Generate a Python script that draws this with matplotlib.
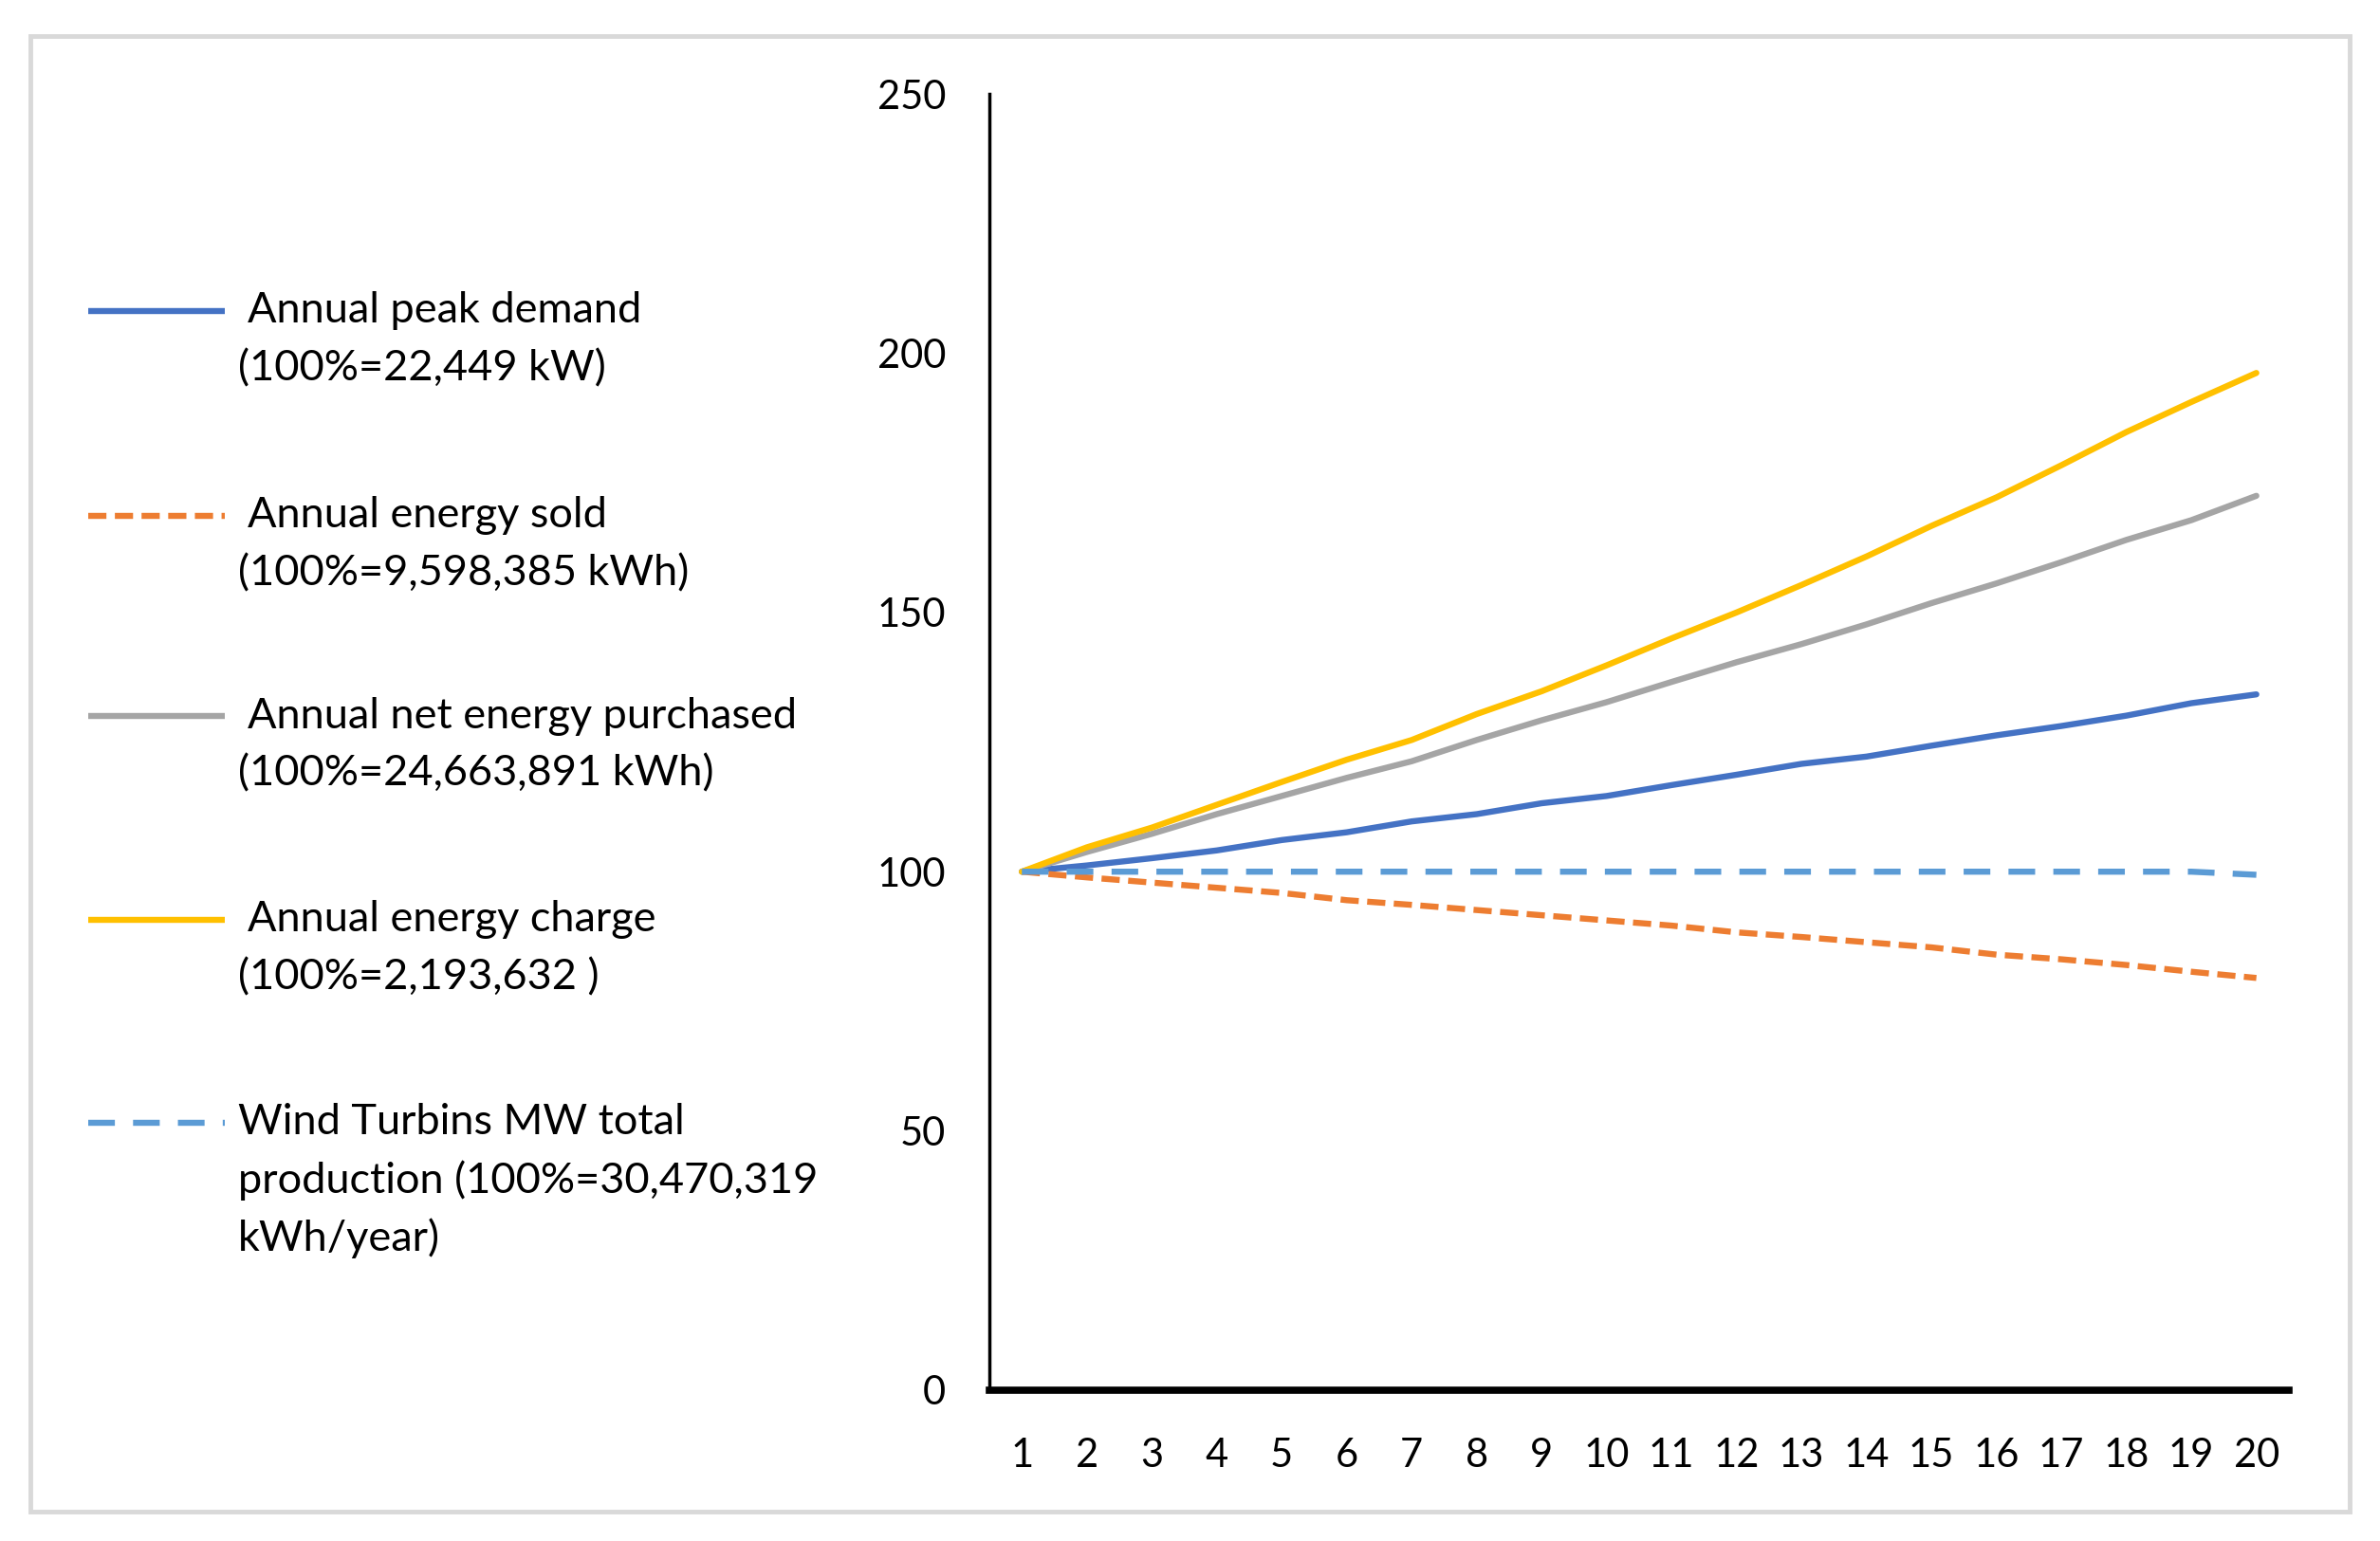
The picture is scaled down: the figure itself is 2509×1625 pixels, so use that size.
import numpy as np
import matplotlib
matplotlib.use('Agg')
from matplotlib import pyplot as plt
from matplotlib.patches import Rectangle

plt.rcParams['font.family'] = ['Lato', 'DejaVu Sans']

# years on the x axis
years = list(range(1, 21))

# index values (100% = year 1)
peak_demand = [100, 101.2, 102.6, 104.1, 106.1, 107.6, 109.7, 111.1, 113.2, 114.6,
               116.7, 118.7, 120.8, 122.2, 124.3, 126.3, 128.1, 130.1, 132.5, 134.2]
energy_sold = [100, 98.9, 97.9, 96.9, 95.9, 94.5, 93.6, 92.6, 91.6, 90.6,
               89.6, 88.3, 87.4, 86.4, 85.4, 84.0, 83.1, 82.0, 80.7, 79.5]
net_purchased = [100, 103.8, 107.3, 111.1, 114.6, 118.1, 121.3, 125.4, 129.2, 132.7,
                 136.6, 140.4, 143.9, 147.7, 151.8, 155.6, 159.7, 164.0, 167.8, 172.5]
energy_charge = [100, 104.7, 108.5, 112.9, 117.3, 121.6, 125.4, 130.4, 134.8, 139.8,
                 145.0, 150.0, 155.3, 160.8, 166.7, 172.2, 178.4, 184.8, 190.6, 196.2]
wind_prod = [100, 100, 100, 100, 100, 100, 100, 100, 100, 100,
             100, 100, 100, 100, 100, 100, 100, 100, 100, 99.4]

labels = [
    ["Annual peak demand", "(100%=22,449 kW)"],
    ["Annual energy sold", "(100%=9,598,385 kWh)"],
    ["Annual net energy purchased", "(100%=24,663,891 kWh)"],
    ["Annual energy charge", "(100%=2,193,632 )"],
    ["Wind Turbins MW total", "production (100%=30,470,319", "kWh/year)"],
]

colors = ['#4472C4', '#ED7D31', '#A5A5A5', '#FFC000', '#5B9BD5']
series = [peak_demand, energy_sold, net_purchased, energy_charge, wind_prod]
dashes = [None, (3.0, 1.4), None, None, (4.4, 3.0)]
lw = 4.6

fig = plt.figure(figsize=(25.09, 16.25), dpi=100)

# background axes in pixel coords for the frame and the legend
lax = fig.add_axes([0, 0, 1, 1])
lax.set_xlim(0, 2509)
lax.set_ylim(1625, 0)
lax.axis('off')
lax.add_patch(Rectangle((32, 38), 2445, 1556, fill=False, edgecolor='#d9d9d9', lw=3.5))

leg_y = [328, 544, 755, 970, 1184]
for i, lab in enumerate(labels):
    y0 = leg_y[i]
    ln, = lax.plot([93, 237], [y0, y0], color=colors[i], lw=lw, solid_capstyle='butt')
    if dashes[i] is not None:
        ln.set_dashes(dashes[i])
        ln.set_dash_capstyle('butt')
    for j, t in enumerate(lab):
        xoff = 261 if (j == 0 and i < 4) else 251
        lax.text(xoff, y0 + j * 61, t, fontsize=32.5, va='center', ha='left', color='#000000')

# main chart
ax = fig.add_axes([0.4157, 0.0979, 0.5460, 0.8411])
ax.patch.set_alpha(0)
for i, s in enumerate(series):
    ln, = ax.plot(years, s, color=colors[i], lw=lw, solid_joinstyle='round',
                  solid_capstyle='round', clip_on=False)
    if dashes[i] is not None:
        ln.set_dashes(dashes[i])
        ln.set_dash_capstyle('butt')

ax.set_xlim(0.5, 20.5)
ax.set_ylim(0, 250)
ax.set_yticks(np.arange(0, 251, 50))
ax.set_xticks(years)
ax.spines['top'].set_visible(False)
ax.spines['right'].set_visible(False)
ax.spines['left'].set_linewidth(2.5)
ax.spines['bottom'].set_linewidth(5.5)
ax.tick_params(axis='both', length=0, labelsize=30)
ax.tick_params(axis='y', pad=33)
ax.tick_params(axis='x', pad=36)

fig.savefig('out.png', dpi=100)
